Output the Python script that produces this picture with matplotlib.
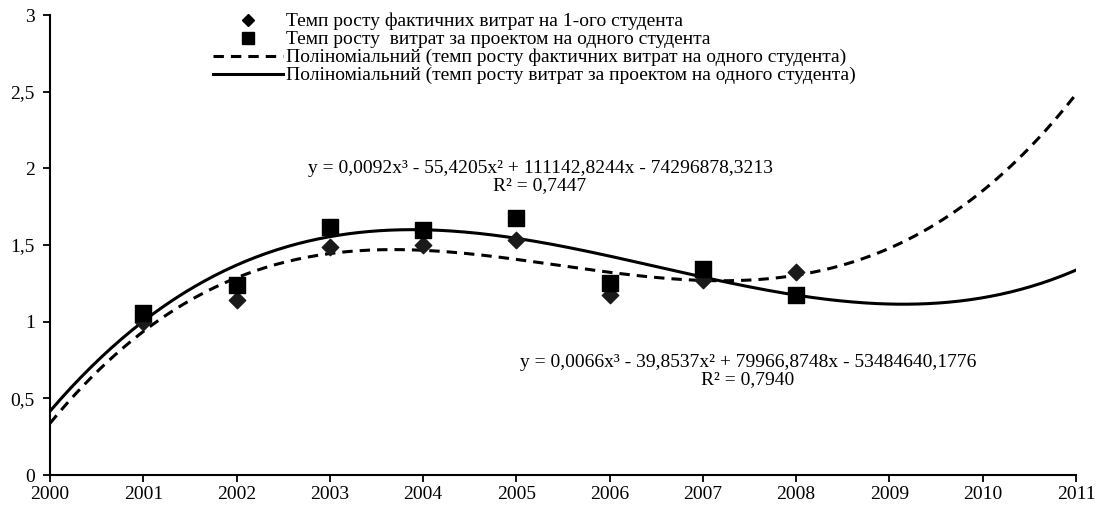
import numpy as np
import matplotlib
matplotlib.use("Agg")
import matplotlib.pyplot as plt
from matplotlib.lines import Line2D

plt.rcParams['font.family'] = ['Liberation Serif', 'DejaVu Serif']

years = [2001, 2002, 2003, 2004, 2005, 2006, 2007, 2008]
actual = [1.0, 1.14, 1.485, 1.50, 1.53, 1.175, 1.275, 1.326]
project = [1.055, 1.24, 1.615, 1.60, 1.675, 1.253, 1.345, 1.177]

label_actual = 'Темп росту фактичних витрат на 1-ого студента'
label_project = 'Темп росту  витрат за проектом на одного студента'
label_fit_actual = 'Поліноміальний (темп росту фактичних витрат на одного студента)'
label_fit_project = 'Поліноміальний (темп росту витрат за проектом на одного студента)'
eq_actual = 'y = 0,0092x³ - 55,4205x² + 111142,8244x - 74296878,3213\nR² = 0,7447'
eq_project = 'y = 0,0066x³ - 39,8537x² + 79966,8748x - 53484640,1776\nR² = 0,7940'

fig = plt.figure(figsize=(10.99, 5.09), dpi=100)
ax = fig.add_axes([50 / 1099, 34 / 509, 1026 / 1099, 460 / 509])

dash = (0, (3.4, 2.3))

# cubic trend lines (fitted on shifted x to keep it well conditioned)
xs = np.linspace(2000, 2011, 300)
x0 = np.array(years) - 2000
fit_a = np.polyfit(x0, actual, 3)
fit_p = np.polyfit(x0, project, 3)
ax.plot(xs, np.polyval(fit_a, xs - 2000), color='black', lw=2.2, ls=dash)
ax.plot(xs, np.polyval(fit_p, xs - 2000), color='black', lw=2.2)

ax.scatter(years, actual, marker='D', s=70, color='#1a1a1a', zorder=3)
ax.scatter(years, project, marker='s', s=135, color='black', zorder=3)

ax.set_xlim(2000, 2011)
ax.set_ylim(0, 3)
ax.set_xticks(range(2000, 2012))
ax.set_yticks([0, 0.5, 1, 1.5, 2, 2.5, 3])
ax.set_yticklabels(['0', '0,5', '1', '1,5', '2', '2,5', '3'])
ax.spines['top'].set_visible(False)
ax.spines['right'].set_visible(False)
ax.spines['left'].set_linewidth(1.5)
ax.spines['bottom'].set_linewidth(1.5)
ax.tick_params(direction='out', length=5, width=1.3, labelsize=14)
ax.tick_params(axis='y', pad=6)
ax.tick_params(axis='x', pad=3)

# equations, positioned in figure fractions
fig.text(540 / 1099, 1 - 177 / 509, eq_actual, fontsize=14, ha='center', va='center',
         linespacing=0.95)
fig.text(748 / 1099, 1 - 371 / 509, eq_project, fontsize=14, ha='center', va='center',
         linespacing=0.95)

handles = [
    Line2D([], [], marker='D', ls='none', color='black', markersize=6.5),
    Line2D([], [], marker='s', ls='none', color='black', markersize=9),
    Line2D([], [], color='black', lw=2.2, ls=dash),
    Line2D([], [], color='black', lw=2.2),
]
fig.legend(handles, [label_actual, label_project, label_fit_actual, label_fit_project],
           loc='upper left', bbox_to_anchor=(203 / 1099, 1 - 3 / 509), frameon=False,
           fontsize=14, handlelength=3.6, handletextpad=0.15, labelspacing=0.02,
           borderpad=0)

fig.savefig('out.png', dpi=100)
